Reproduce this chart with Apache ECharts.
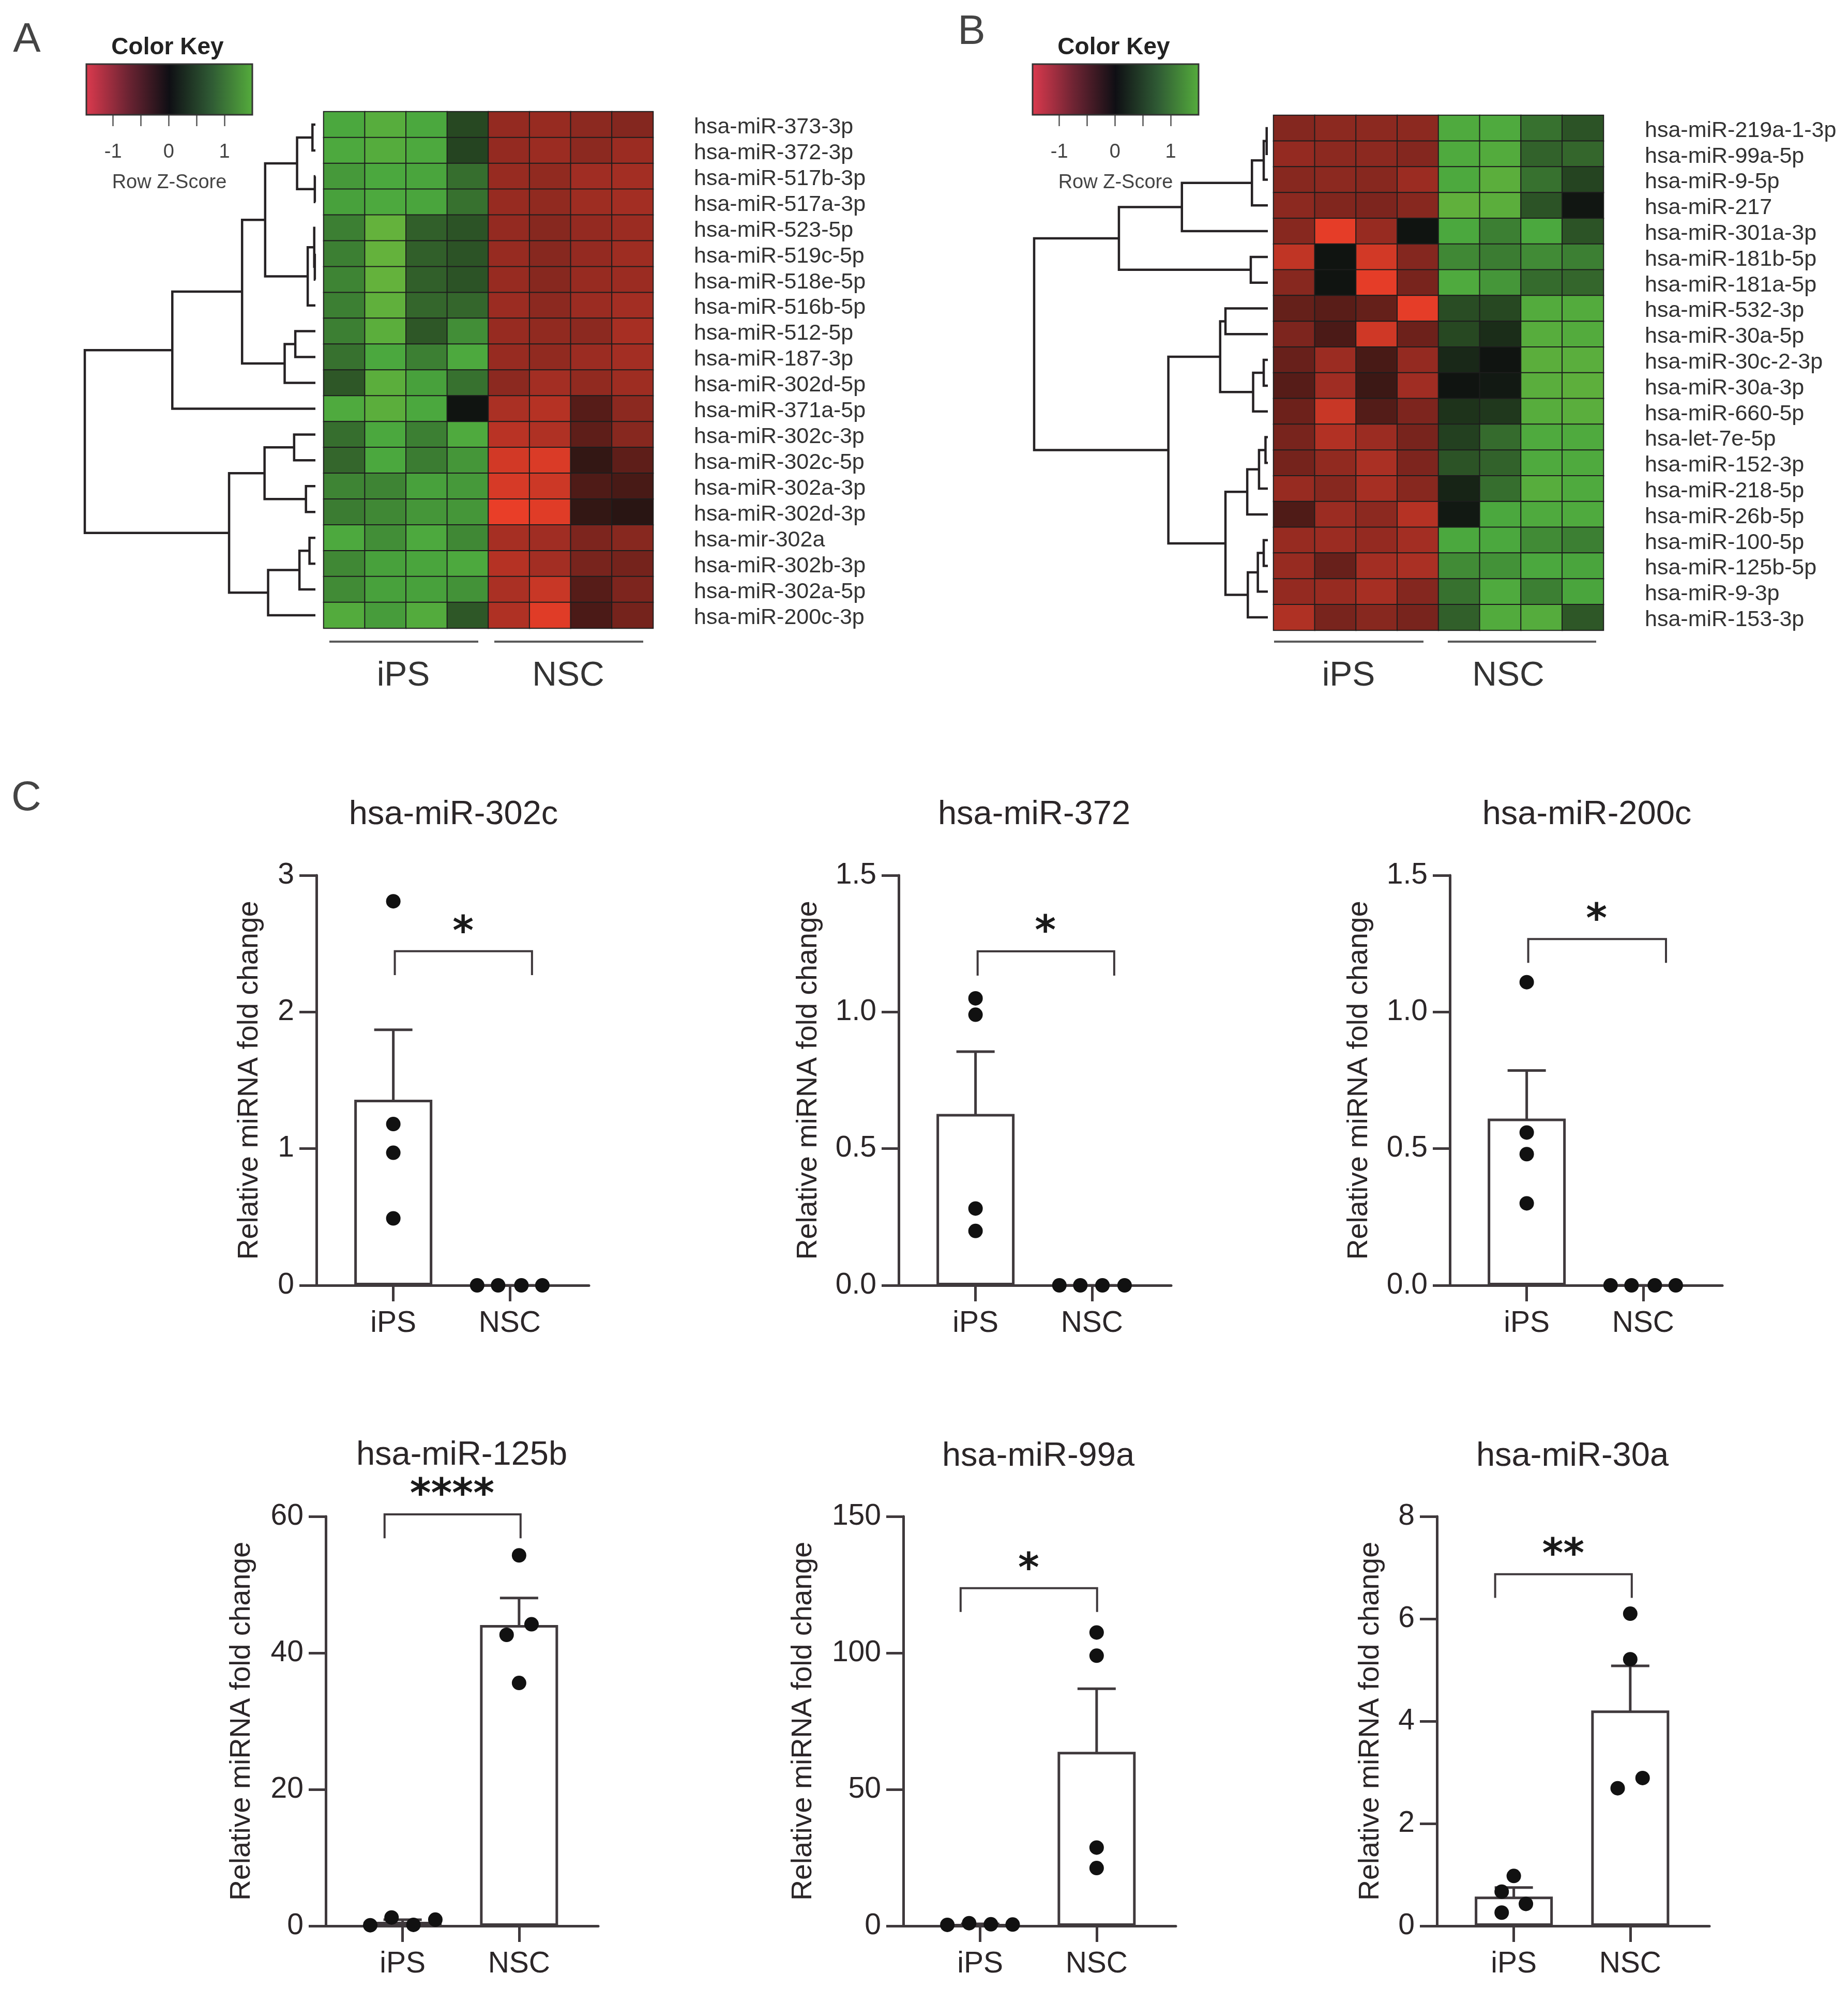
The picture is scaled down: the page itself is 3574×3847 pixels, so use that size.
<!DOCTYPE html>
<html><head><meta charset="utf-8">
<style>html,body{margin:0;padding:0;background:#fff}#c{width:3574px;height:3847px}</style>
<script src="https://cdn.jsdelivr.net/npm/echarts@6/dist/echarts.min.js"></script>
</head><body><div id="c"></div>
<script>
const rowsA=['hsa-miR-373-3p','hsa-miR-372-3p','hsa-miR-517b-3p','hsa-miR-517a-3p','hsa-miR-523-5p','hsa-miR-519c-5p','hsa-miR-518e-5p','hsa-miR-516b-5p','hsa-miR-512-5p','hsa-miR-187-3p','hsa-miR-302d-5p','hsa-miR-371a-5p','hsa-miR-302c-3p','hsa-miR-302c-5p','hsa-miR-302a-3p','hsa-miR-302d-3p','hsa-mir-302a','hsa-miR-302b-3p','hsa-miR-302a-5p','hsa-miR-200c-3p'];
const rowsB=['hsa-miR-219a-1-3p','hsa-miR-99a-5p','hsa-miR-9-5p','hsa-miR-217','hsa-miR-301a-3p','hsa-miR-181b-5p','hsa-miR-181a-5p','hsa-miR-532-3p','hsa-miR-30a-5p','hsa-miR-30c-2-3p','hsa-miR-30a-3p','hsa-miR-660-5p','hsa-let-7e-5p','hsa-miR-152-3p','hsa-miR-218-5p','hsa-miR-26b-5p','hsa-miR-100-5p','hsa-miR-125b-5p','hsa-miR-9-3p','hsa-miR-153-3p'];
const sampleCols=['iPS1','iPS2','iPS3','iPS4','NSC1','NSC2','NSC3','NSC4'];
const heatA=[
[1.0,1.15,1.0,.35,-.9,-.92,-.85,-.8],
[1.02,1.12,1.02,.33,-.9,-.95,-.85,-.95],
[.9,1.0,.98,.6,-.92,-.88,-.98,-1.0],
[.95,1.02,.98,.62,-.92,-.88,-.97,-1.0],
[.72,1.3,.5,.42,-.9,-.82,-.9,-.95],
[.72,1.3,.5,.42,-.92,-.82,-.9,-.97],
[.75,1.3,.5,.42,-.92,-.82,-.92,-.95],
[.72,1.25,.55,.55,-.95,-.85,-.95,-1.0],
[.72,1.2,.45,.82,-.92,-.88,-.85,-1.03],
[.62,1.0,.72,1.02,-.92,-.88,-.95,-1.0],
[.45,1.2,.95,.62,-.85,-1.0,-.88,-.97],
[1.05,1.2,1.0,.02,-1.05,-1.12,-.5,-.85],
[.6,1.0,.72,1.05,-1.15,-1.08,-.55,-.82],
[.55,1.0,.7,.88,-1.32,-1.38,-.25,-.55],
[.75,.75,.95,.9,-1.35,-1.28,-.45,-.4],
[.7,.78,.88,.88,-1.48,-1.42,-.25,-.18],
[1.02,.82,1.02,.78,-1.02,-.98,-.75,-.82],
[.78,.95,.98,1.02,-1.12,-1.0,-.72,-.7],
[.8,.95,.95,.85,-1.05,-1.25,-.5,-.75],
[1.1,.92,1.1,.45,-1.08,-1.42,-.42,-.7]];
const heatB=[
[-.8,-.85,-.85,-.85,1.05,1.05,.62,.42],
[-.9,-.85,-.85,-.8,1.05,1.1,.52,.55],
[-.82,-.85,-.82,-.95,1.02,1.2,.62,.33],
[-.85,-.78,-.75,-.82,1.25,1.2,.42,.03],
[-.82,-1.45,-.92,.02,1.0,.72,1.0,.42],
[-1.2,.02,-1.32,-.8,.78,.7,.8,.72],
[-.82,.02,-1.45,-.72,1.05,.88,.58,.55],
[-.6,-.52,-.6,-1.45,.38,.35,1.1,1.1],
[-.75,-.42,-1.3,-.65,.35,.18,1.15,1.1],
[-.62,-.95,-.4,-.9,.15,.02,1.2,1.18],
[-.5,-.98,-.32,-.98,.02,.05,1.18,1.22],
[-.65,-1.25,-.48,-.75,.22,.25,1.15,1.18],
[-.72,-1.1,-.95,-.72,.3,.58,1.05,1.05],
[-.7,-.88,-1.05,-.75,.42,.52,1.05,1.05],
[-.92,-.82,-1.02,-.82,.12,.6,1.15,1.05],
[-.45,-.95,-.85,-1.12,.05,1.0,1.05,1.05],
[-.92,-.95,-.9,-1.0,1.0,1.0,.8,.72],
[-.92,-.62,-1.0,-1.05,.8,.85,1.0,.98],
[-.9,-.92,-1.02,-.8,.62,1.05,.72,.98],
[-1.08,-.72,-.82,-.72,.5,1.08,1.12,.45]];
// hclust-style merges: negative = leaf (1-based row), positive = earlier merge (1-based), third = height
const mergesA=[[-1,-2,5],[-3,-4,1],[1,2,31],[-6,-7,1],[-5,4,2],[5,-8,13],[3,6,85],[-9,-10,34],[8,-11,52],[7,9,124],[10,-12,242],[-13,-14,36],[-15,-16,16],[12,13,86],[-17,-18,10],[15,-19,27],[16,-20,80],[14,17,146],[11,18,390]];
const mergesB=[[-1,-2,2],[1,-3,7],[2,-4,27],[3,-5,146],[-6,-7,29],[4,5,253],[-8,-9,72],[-10,-11,7],[8,-12,25],[7,9,81],[-13,-14,4],[11,-15,15],[12,-16,35],[-17,-18,7],[14,-19,17],[15,-20,34],[13,16,72],[10,17,169],[6,18,397]];
const heatColors=['#ec3f28','#a32e23','#561c18','#0f1110','#315f2a','#4ba83e','#74b83a'];
const keyColors=['#dc3a4e','#6e2433','#0f0f14','#2f5a34','#55ad3c'];
const keyTicks=[-1,-.5,0,.5,1];
const keyLabels=[-1,0,1];

const panelTitles=['hsa-miR-302c','hsa-miR-372','hsa-miR-200c','hsa-miR-125b','hsa-miR-99a','hsa-miR-30a'];
const groups=['iPS','NSC'];
const barMeans=[[1.358,0],[.627,0],[.61,0],[.6,44.1],[.6,63.8],[.573,4.21]];
const errUpper=[[1.87,0],[.855,0],[.786,0],[.9,48.05],[.75,86.9],[.75,5.08]];
const errLower=[[.865,0],[.404,0],[.437,0],[.35,40.3],[.45,41.3],[.425,3.38]];
const dotsX=[
[1,1,1,1,1.72,1.9,2.1,2.28],[1,1,1,1,1.72,1.9,2.09,2.28],[1,1,1,1,1.72,1.9,2.1,2.28],
[.722,.905,1.093,1.281,2,2.107,1.893,2],[.718,.905,1.092,1.279,2,2,2,2],[1,.896,1.104,.896,2,2,2.106,1.892]];
const dotsY=[
[2.81,1.18,.97,.49,0,0,0,0],[1.05,.99,.281,.199,0,0,0,0],[1.109,.559,.48,.3,0,0,0,0],
[.1,1.24,.16,.92,54.3,44.2,42.65,35.6],[.4,1,.6,.5,107.5,99,28.7,21.2],[.977,.67,.43,.26,6.1,5.21,2.89,2.69]];
const axisMax=[3,1.5,1.5,60,150,8];
const axisStep=[1,.5,.5,20,50,2];
const axisDigits=[0,1,1,0,0,0];
// bracket: x from, x to, top value, foot value; star: x, y, text
const bracketX=[[1.013,2.191],[1.018,2.191],[1.013,2.196],[.845,2.013],[.832,2.004],[.84,2.013]];
const bracketY=[[2.445,2.27],[1.222,1.133],[1.267,1.18],[60.3,56.8],[123.7,115],[6.87,6.41]];
const starX=[1.6,1.6,1.6,1.425,1.416,1.425];
const starY=[2.626,1.315,1.358,64,132.8,7.37];
const starText=['*','*','*','****','*','**'];

const FONT='"Liberation Sans",Arial,sans-serif', INK='#3f393c', TXT='#2b2628';
const grid=[],xAxis=[],yAxis=[],series=[],title=[],graphic=[];
function T(text,x,y,size,o){title.push(Object.assign({text,left:x,top:y,textAlign:'center',textVerticalAlign:'middle',textStyle:{fontFamily:FONT,fontSize:size,fontWeight:'normal',color:'#333'}},o||{}));}
function L(x1,x2,y){graphic.push({type:'line',shape:{x1,y1:y,x2,y2:y},style:{stroke:'#5a5a5a',lineWidth:4}});}

function heatPanel(rows,vals,merges,g){
  const hi=series.length;
  let k=grid.length;
  grid.push({left:g.l,top:g.t,width:g.r-g.l,height:g.b-g.t});
  xAxis.push({gridIndex:k,type:'category',data:sampleCols,show:false});
  yAxis.push({gridIndex:k,type:'category',data:rows,inverse:true,show:false});
  const data=[];vals.forEach((r,i)=>r.forEach((v,j)=>data.push([j,i,v])));
  series.push({type:'heatmap',xAxisIndex:k,yAxisIndex:k,data,itemStyle:{borderColor:'#1d1d1d',borderWidth:2},emphasis:{disabled:true}});
  // row names: same category axis, on a grid set 5px lower to sit where the reference's labels sit
  k=grid.length;
  grid.push({left:g.l,top:g.t+5,width:g.r-g.l,height:g.b-g.t});
  xAxis.push({gridIndex:k,type:'category',data:sampleCols,show:false});
  yAxis.push({gridIndex:k,type:'category',data:rows,inverse:true,position:'right',axisLine:{show:false},axisTick:{show:false},
    axisLabel:{margin:g.lab-g.r,fontSize:43,color:'#333',fontFamily:FONT,interval:0}});
  k=grid.length;
  grid.push({left:g.root,top:g.t,width:g.leaf-g.root,height:g.b-g.t});
  const hMax=merges[merges.length-1][2];
  xAxis.push({gridIndex:k,type:'value',min:0,max:hMax,inverse:true,show:false});
  yAxis.push({gridIndex:k,type:'value',min:-.5,max:rows.length-.5,inverse:true,show:false});
  const nodes=[];
  const info=c=>c<0?{y:-c-1,h:0}:nodes[c-1];
  const segs=merges.map(m=>{const a=info(m[0]),b=info(m[1]);nodes.push({y:(a.y+b.y)/2,h:m[2]});return [m[2],a.y,a.h,b.y,b.h];});
  series.push({type:'custom',xAxisIndex:k,yAxisIndex:k,data:segs,silent:true,clip:false,encode:{x:0,y:1},
    renderItem:(p,api)=>{const h=api.value(0),ya=api.value(1),ha=api.value(2),yb=api.value(3),hb=api.value(4);
      return {type:'polyline',shape:{points:[api.coord([ha,ya]),api.coord([h,ya]),api.coord([h,yb]),api.coord([hb,yb])]},style:{stroke:'#262224',lineWidth:4.5,fill:null}};}});
  k=grid.length;
  grid.push({left:g.kl,top:124,width:g.kr-g.kl,height:98});
  xAxis.push({gridIndex:k,type:'value',min:-1.48,max:1.5,name:'Row Z-Score',nameLocation:'middle',nameGap:113,
    nameTextStyle:{fontFamily:FONT,fontSize:38,color:'#444'},splitLine:{show:false},axisLine:{show:false},
    axisTick:{show:true,length:22,customValues:keyTicks,lineStyle:{color:'#555',width:2.5}},
    axisLabel:{fontFamily:FONT,fontSize:38,color:'#444',margin:54,customValues:keyLabels,formatter:v=>String(v)}});
  yAxis.push({gridIndex:k,type:'value',min:0,max:1,show:false});
  series.push({type:'custom',xAxisIndex:k,yAxisIndex:k,data:[[-1.48,1.5]],silent:true,encode:{x:[0,1]},
    renderItem:(p,api)=>{const a=api.coord([api.value(0),1]),b=api.coord([api.value(1),0]);
      const stops=keyColors.map((c,i)=>({offset:i/(keyColors.length-1),color:c}));
      return {type:'rect',shape:{x:a[0],y:a[1],width:b[0]-a[0],height:b[1]-a[1]},
        style:{fill:new echarts.graphic.LinearGradient(0,0,1,0,stops),stroke:'#333',lineWidth:3}};}});
  T('Color Key',g.kt,87,46,{textStyle:{fontFamily:FONT,fontSize:46,fontWeight:'bold',color:'#222'}});
  L(g.ln[0],g.ln[1],1241);L(g.ln[2],g.ln[3],1241);
  T('iPS',g.tx[0],1303,66);T('NSC',g.tx[1],1303,66);
  return hi;
}
const h1=heatPanel(rowsA,heatA,mergesA,{l:626,r:1263,t:216,b:1215,lab:1342,root:164,leaf:610,kl:167,kr:488,kt:319,ln:[637,925,956,1244],tx:[775,1094]});
const h2=heatPanel(rowsB,heatB,mergesB,{l:2463,r:3101,t:223,b:1219,lab:3181,root:2000,leaf:2452,kl:1997,kr:2318,kt:2149,ln:[2464,2753,2800,3087],tx:[2603,2912]});

const panelBox=[
 {ax:612,top:1693,bot:2486,gap:101,tx:872,ty:1571},
 {ax:1738,top:1693,bot:2486,gap:146,tx:1995,ty:1571},
 {ax:2804,top:1693,bot:2486,gap:147,tx:3064,ty:1571},
 {ax:630,top:2933,bot:3725,gap:134,tx:888,ty:2810},
 {ax:1747,top:2933,bot:3725,gap:165,tx:2003,ty:2812},
 {ax:2779,top:2933,bot:3725,gap:100,tx:3036,ty:2812}];
panelTitles.forEach((name,p)=>{
  const b=panelBox[p],k=grid.length;
  grid.push({left:b.ax,top:b.top,width:527,height:b.bot-b.top});
  const line={lineStyle:{color:INK,width:5}};
  xAxis.push({gridIndex:k,type:'value',min:.34,max:2.68,splitLine:{show:false},axisLine:{show:true,onZero:true,...line},
    axisTick:{show:true,length:31,customValues:[1,2],...line},
    axisLabel:{fontFamily:FONT,fontSize:57,color:TXT,margin:46,customValues:[1,2],formatter:v=>groups[v-1]||''}});
  yAxis.push({gridIndex:k,type:'value',min:0,max:axisMax[p],interval:axisStep[p],splitLine:{show:false},axisLine:{show:true,...line},
    axisTick:{show:true,length:33,...line},
    axisLabel:{fontFamily:FONT,fontSize:57,color:TXT,margin:43,formatter:v=>v.toFixed(axisDigits[p])},
    name:'Relative miRNA fold change',nameLocation:'middle',nameGap:b.gap,nameMoveOverlap:false,nameTextStyle:{fontFamily:FONT,fontSize:55.5,color:TXT}});
  T(name,b.tx,b.ty,65,{textStyle:{fontFamily:FONT,fontSize:65,fontWeight:'normal',color:TXT}});
  series.push({type:'bar',xAxisIndex:k,yAxisIndex:k,barWidth:151,silent:true,data:barMeans[p].map((v,i)=>[i+1,v]),
    itemStyle:{color:'#fff',borderColor:INK,borderWidth:5}});
  series.push({type:'custom',xAxisIndex:k,yAxisIndex:k,silent:true,clip:false,encode:{x:0,y:[1,2]},
    data:groups.map((g,i)=>[i+1,errLower[p][i],errUpper[p][i]]).filter(d=>d[2]>0),
    renderItem:(c,api)=>{const x=api.value(0),lo=api.coord([x,api.value(1)]),hi=api.coord([x,api.value(2)]),w=37;
      const st={stroke:INK,lineWidth:5};
      return {type:'group',children:[
        {type:'line',shape:{x1:lo[0],y1:lo[1],x2:hi[0],y2:hi[1]},style:st},
        {type:'line',shape:{x1:lo[0]-w,y1:lo[1],x2:lo[0]+w,y2:lo[1]},style:st},
        {type:'line',shape:{x1:hi[0]-w,y1:hi[1],x2:hi[0]+w,y2:hi[1]},style:st}]};}});
  series.push({type:'scatter',xAxisIndex:k,yAxisIndex:k,silent:true,symbolSize:28,clip:false,data:dotsX[p].map((x,i)=>[x,dotsY[p][i]]),
    itemStyle:{color:'#111',opacity:1},z:5});
  series.push({type:'custom',xAxisIndex:k,yAxisIndex:k,silent:true,clip:false,encode:{x:[0,1],y:[2,3]},
    data:[[bracketX[p][0],bracketX[p][1],bracketY[p][0],bracketY[p][1]]],
    renderItem:(c,api)=>{const a=api.coord([api.value(0),api.value(3)]),t=api.coord([api.value(0),api.value(2)]),e=api.coord([api.value(1),api.value(2)]),f=api.coord([api.value(1),api.value(3)]);
      return {type:'polyline',shape:{points:[a,t,e,f]},style:{stroke:INK,lineWidth:4,fill:null}};}});
  series.push({type:'custom',xAxisIndex:k,yAxisIndex:k,silent:true,clip:false,encode:{x:0,y:1},
    data:[[starX[p],starY[p]]],
    renderItem:(c,api)=>{const q=api.coord([api.value(0),api.value(1)]);
      return {type:'text',style:{text:starText[p],x:q[0],y:q[1]+15,fill:'#1a1a1a',font:'bold 78px "DejaVu Sans"',align:'center',verticalAlign:'middle'}};}});
});
T('A',47,73,80,{textStyle:{fontFamily:FONT,fontSize:80,color:'#444',fontWeight:'normal'}});
T('B',1874,58,80,{textStyle:{fontFamily:FONT,fontSize:80,color:'#444',fontWeight:'normal'}});
T('C',46,1540,80,{textStyle:{fontFamily:FONT,fontSize:80,color:'#444',fontWeight:'normal'}});

const chart=echarts.init(document.getElementById('c'),null,{renderer:'canvas'});
chart.setOption({animation:false,backgroundColor:'#fff',tooltip:{show:false},grid,xAxis,yAxis,series,title,graphic,
  visualMap:{show:false,type:'continuous',min:-1.5,max:1.5,seriesIndex:[h1,h2],inRange:{color:heatColors}}});
</script></body></html>
